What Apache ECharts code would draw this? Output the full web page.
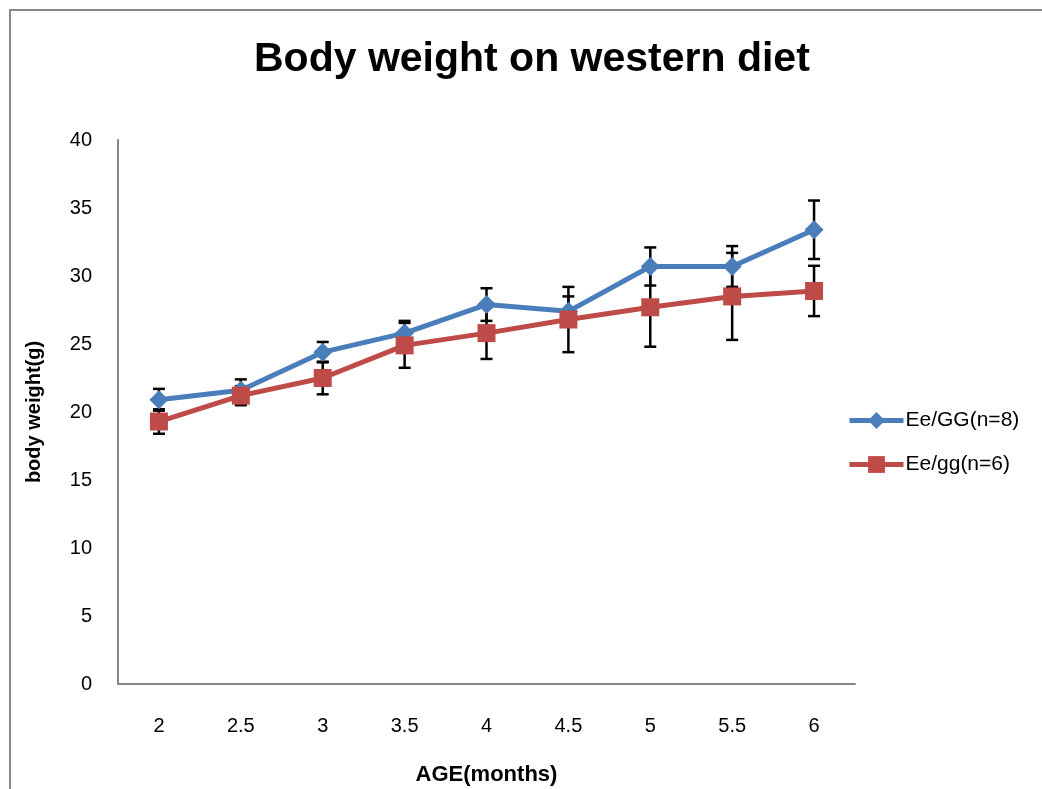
<!DOCTYPE html>
<html>
<head>
<meta charset="utf-8">
<script src="https://cdn.jsdelivr.net/npm/echarts@6/dist/echarts.min.js"></script>
<style>
html,body{margin:0;padding:0;background:#fff;}
#chart{width:1042px;height:789px;}
</style>
</head>
<body>
<div id="chart"></div>
<script>
const categories = ['2','2.5','3','3.5','4','4.5','5','5.5','6'];
const seriesNames = ['Ee/GG(n=8)','Ee/gg(n=6)'];
const blueValues = [20.9, 21.6, 24.4, 25.8, 27.9, 27.4, 30.7, 30.7, 33.4];
const blueErrors = [0.8, 0.8, 0.75, 0.9, 1.2, 1.1, 1.4, 1.5, 2.15];
const redValues = [19.3, 21.2, 22.5, 24.9, 25.8, 26.8, 27.7, 28.5, 28.9];
const redErrors = [0.9, 0.7, 1.2, 1.65, 1.9, 2.4, 2.9, 3.2, 1.85];
const yTicks = {min: 0, max: 40, interval: 5};

const blueColor = '#4A7EBB';
const redColor = '#BE4B48';

function errData(vals, errs) {
  return vals.map((v, i) => [i, v - errs[i], v + errs[i]]);
}
function renderErr(params, api) {
  const x = api.value(0);
  const lo = api.coord([x, api.value(1)]);
  const hi = api.coord([x, api.value(2)]);
  const hw = 6;
  const style = {stroke: '#000', lineWidth: 2.5, fill: null};
  return {
    type: 'group',
    children: [
      {type: 'line', shape: {x1: lo[0], y1: lo[1], x2: hi[0], y2: hi[1]}, style: style},
      {type: 'line', shape: {x1: lo[0] - hw, y1: lo[1], x2: lo[0] + hw, y2: lo[1]}, style: style},
      {type: 'line', shape: {x1: hi[0] - hw, y1: hi[1], x2: hi[0] + hw, y2: hi[1]}, style: style}
    ]
  };
}

const chart = echarts.init(document.getElementById('chart'));
chart.setOption({
  animation: false,
  backgroundColor: '#fff',
  graphic: [{
    type: 'rect', left: 9, top: 9, z: -10,
    shape: {x: 0, y: 0, width: 1100, height: 900},
    style: {fill: '#fff', stroke: '#898989', lineWidth: 2}
  }],
  title: {
    text: 'Body weight on western diet',
    left: 249, top: 34,
    textStyle: {fontFamily: 'Liberation Sans', fontWeight: 'bold', fontSize: 41, color: '#000'}
  },
  grid: {left: 118, top: 140, width: 737, height: 544, containLabel: false, outerBoundsMode: 'none'},
  legend: {
    data: seriesNames,
    orient: 'vertical',
    left: 842, top: 405,
    itemWidth: 54, itemHeight: 21, itemGap: 23,
    lineStyle: {width: 5},
    textStyle: {fontFamily: 'Liberation Sans', fontSize: 21, color: '#000', padding: [0,0,0,-3]}
  },
  xAxis: {
    type: 'category',
    data: categories,
    boundaryGap: true,
    name: 'AGE(months)',
    nameLocation: 'middle',
    nameGap: 80,
    nameTextStyle: {fontFamily: 'Liberation Sans', fontWeight: 'bold', fontSize: 22, color: '#000'},
    axisLine: {lineStyle: {color: '#868686', width: 2}},
    axisTick: {show: false},
    axisLabel: {fontFamily: 'Liberation Sans', fontSize: 20, color: '#000', margin: 32}
  },
  yAxis: {
    type: 'value',
    min: yTicks.min, max: yTicks.max, interval: yTicks.interval,
    name: 'body weight(g)',
    nameLocation: 'middle',
    nameGap: 74,
    nameTextStyle: {fontFamily: 'Liberation Sans', fontWeight: 'bold', fontSize: 20, color: '#000'},
    axisLine: {show: true, lineStyle: {color: '#868686', width: 2}},
    axisTick: {show: false},
    splitLine: {show: false},
    axisLabel: {fontFamily: 'Liberation Sans', fontSize: 20, color: '#000', margin: 26}
  },
  series: [
    {
      type: 'custom', name: 'errBlue', renderItem: renderErr,
      data: errData(blueValues, blueErrors), z: 1, silent: true
    },
    {
      type: 'custom', name: 'errRed', renderItem: renderErr,
      data: errData(redValues, redErrors), z: 1, silent: true
    },
    {
      type: 'line', name: seriesNames[0], data: blueValues,
      symbol: 'diamond', symbolSize: 19, z: 3,
      itemStyle: {color: blueColor},
      lineStyle: {color: blueColor, width: 5}
    },
    {
      type: 'line', name: seriesNames[1], data: redValues,
      symbol: 'rect', symbolSize: 18, z: 4,
      itemStyle: {color: redColor},
      lineStyle: {color: redColor, width: 5}
    }
  ]
});
</script>
</body>
</html>
